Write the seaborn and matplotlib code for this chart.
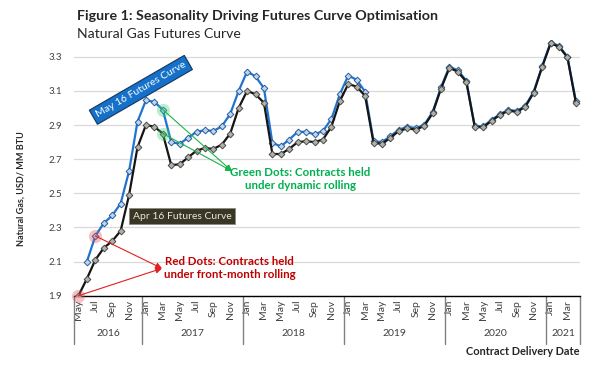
import pandas as pd
import matplotlib
matplotlib.use('Agg')
import matplotlib.pyplot as plt
import seaborn as sns

# Данные: кривые фьючерсов на природный газ (контракты май 2016 - апр 2021)
contract_months = pd.date_range('2016-05-01', periods=60, freq='MS')
month_names = [d.strftime('%b') for d in contract_months]
years = ['2016', '2017', '2018', '2019', '2020', '2021']
year_centers = [3.5, 13.5, 25.5, 37.5, 49.5, 57.5]
year_bounds = [-0.5, 7.5, 19.5, 31.5, 43.5, 55.5, 59.5]

# Apr 16 Futures Curve (начинается с мая 2016)
apr16_curve = [1.90, 2.00, 2.11, 2.18, 2.22, 2.28, 2.49, 2.77,
               2.90, 2.89, 2.85, 2.665, 2.67, 2.71, 2.75, 2.765, 2.76, 2.785, 2.85, 3.00,
               3.10, 3.08, 3.03, 2.73, 2.73, 2.76, 2.80, 2.805, 2.80, 2.815, 2.89, 3.04,
               3.14, 3.125, 3.07, 2.795, 2.79, 2.825, 2.865, 2.88, 2.873, 2.894, 2.968, 3.113,
               3.235, 3.212, 3.154, 2.89, 2.886, 2.925, 2.959, 2.984, 2.977, 3.007, 3.09, 3.24,
               3.378, 3.359, 3.296, 3.031]

# May 16 Futures Curve (начинается с июня 2016)
may16_curve = [2.10, 2.25, 2.325, 2.37, 2.44, 2.63, 2.92,
               3.045, 3.035, 2.99, 2.80, 2.79, 2.825, 2.86, 2.87, 2.865, 2.892, 2.965, 3.10,
               3.213, 3.185, 3.115, 2.795, 2.775, 2.815, 2.86, 2.86, 2.845, 2.865, 2.935, 3.08,
               3.19, 3.165, 3.095, 2.805, 2.80, 2.835, 2.872, 2.89, 2.882, 2.90, 2.975, 3.12,
               3.242, 3.22, 3.16, 2.895, 2.892, 2.93, 2.964, 2.989, 2.982, 3.012, 3.095, 3.245,
               3.383, 3.364, 3.30, 3.04]

idx_apr = list(range(len(apr16_curve)))
idx_may = list(range(1, 1 + len(may16_curve)))

# точки для выделения (индекс контракта, цена)
green_dots = [(10, 2.99), (10, 2.85)]
red_dots = [(0, 1.90), (2, 2.25)]

sns.set_style('white')
plt.rcParams['font.family'] = ['Lato', 'DejaVu Sans']

fig = plt.figure(figsize=(6, 3.7), dpi=100)
ax = fig.add_axes([0.1238, 0.2008, 0.843, 0.692])

sns.lineplot(x=idx_may, y=may16_curve, ax=ax, color='#1f74d0', linewidth=1.6,
             marker='D', markersize=3.4, markerfacecolor='#c9d3e0',
             markeredgecolor='#1f5fa8', markeredgewidth=0.7, zorder=3)
sns.lineplot(x=idx_apr, y=apr16_curve, ax=ax, color='#151515', linewidth=1.6,
             marker='D', markersize=3.4, markerfacecolor='#b0b0aa',
             markeredgecolor='#4a4a44', markeredgewidth=0.7, zorder=4)

# выделенные точки
gx, gy = zip(*green_dots)
ax.scatter(gx, gy, s=90, color='#3ccf6e', alpha=0.35, zorder=5, clip_on=False, linewidths=0)
rx, ry = zip(*red_dots)
ax.scatter(rx, ry, s=90, color='#e0505a', alpha=0.35, zorder=5, clip_on=False, linewidths=0)

for x0, y0 in green_dots:
    ax.annotate('', xy=(18.2, 2.63), xytext=(x0, y0),
                arrowprops=dict(arrowstyle='-|>', color='#19b34a', lw=0.8,
                                mutation_scale=9, shrinkA=0, shrinkB=0), zorder=6)
for x0, y0 in red_dots:
    ax.annotate('', xy=(9.9, 2.06), xytext=(x0, y0),
                arrowprops=dict(arrowstyle='-|>', color='#e0201e', lw=0.8,
                                mutation_scale=9, shrinkA=0, shrinkB=0), zorder=6)

ax.text(26.3, 2.582, 'Green Dots: Contracts held\nunder dynamic rolling', color='#00b050',
        fontsize=8.3, fontweight='bold', ha='center', va='center', linespacing=1.2)
ax.text(17.9, 2.062, 'Red Dots: Contracts held\nunder front-month rolling', color='#c00000',
        fontsize=8.3, fontweight='bold', ha='center', va='center', linespacing=1.2)

# подписи кривых
ax.text(7.4, 3.106, 'May 16 Futures Curve', rotation=30, color='white', fontsize=7.5,
        ha='center', va='center', zorder=7,
        bbox=dict(boxstyle='square,pad=0.35', facecolor='#1470c8', edgecolor='#16365c', lw=0.8))
ax.text(12.3, 2.365, 'Apr 16 Futures Curve', color='#e6e6e0', fontsize=7.5,
        ha='center', va='center', zorder=7,
        bbox=dict(boxstyle='square,pad=0.35', facecolor='#3a3626', edgecolor='#8a8a80', lw=0.6))

# оси
ax.set_xlim(-0.5, 59.5)
ax.set_ylim(1.9, 3.4)
ax.set_yticks([1.9, 2.1, 2.3, 2.5, 2.7, 2.9, 3.1, 3.3])
ax.set_yticklabels(['1.9', '2.1', '2.3', '2.5', '2.7', '2.9', '3.1', '3.3'])
ax.yaxis.grid(True, color='#d9d9d9', linewidth=0.9)
ax.set_axisbelow(True)
ax.tick_params(axis='y', length=0, pad=9, labelsize=7, labelcolor='#404040')

ticks = list(range(0, 60, 2))
ax.set_xticks(ticks)
ax.set_xticklabels([month_names[i] for i in ticks], rotation=90, va='top', ha='center')
ax.tick_params(axis='x', length=0, pad=3, labelsize=7.5, labelcolor='#404040')

for s in ['left', 'right', 'top']:
    ax.spines[s].set_visible(False)
ax.spines['bottom'].set_color('black')
ax.spines['bottom'].set_linewidth(1.0)

trans = ax.get_xaxis_transform()
for b in year_bounds:
    ax.plot([b, b], [0, -0.19], transform=trans, color='#808080', lw=1.0, clip_on=False)
for yr, c in zip(years, year_centers):
    ax.text(c, -0.148, yr, transform=trans, ha='center', va='center', fontsize=7.5, color='#404040')

ax.set_xlabel('')
ax.set_ylabel('')
fig.text(0.965, 0.049, 'Contract Delivery Date', ha='right', va='center', fontsize=7.9, fontweight='bold')
fig.text(0.035, 0.49, 'Natural Gas, USD/ MM BTU', rotation=90, ha='center', va='center',
         fontsize=6.5, fontweight='bold')

fig.text(0.128, 0.958, 'Figure 1: Seasonality Driving Futures Curve Optimisation', ha='left', va='center',
         fontsize=10.3, fontweight='bold')
fig.text(0.128, 0.908, 'Natural Gas Futures Curve', ha='left', va='center', fontsize=10.1)

fig.savefig('out.png', dpi=100)
